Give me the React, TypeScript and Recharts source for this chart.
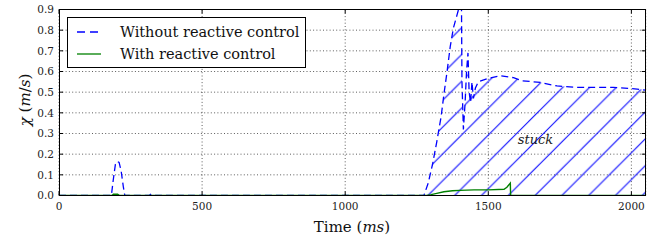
import React from "react";
import {
  ComposedChart,
  Line,
  Area,
  XAxis,
  YAxis,
  CartesianGrid,
  ReferenceDot,
} from "recharts";

// without reactive control (dashed blue)
const noCtrlTime = [0, 183, 190, 197, 203, 210, 217, 225, 230, 315, 320, 325, 1275, 1290, 1305, 1320, 1335, 1345, 1356, 1367, 1378, 1392, 1402, 1406, 1408, 1413, 1419, 1424, 1429, 1433, 1438, 1443, 1448, 1455, 1465, 1495, 1542, 1588, 1620, 1682, 1740, 1810, 1937, 2020, 2050];
const noCtrlChi = [0, 0, 0.08, 0.15, 0.165, 0.16, 0.12, 0.04, 0, 0, 0.006, 0, 0, 0.06, 0.15, 0.26, 0.38, 0.49, 0.6, 0.72, 0.81, 0.88, 0.93, 1.0, 0.55, 0.32, 0.45, 0.6, 0.69, 0.5, 0.45, 0.55, 0.47, 0.52, 0.55, 0.565, 0.58, 0.57, 0.555, 0.547, 0.53, 0.523, 0.523, 0.515, 0.51];

// with reactive control (green)
const ctrlTime = [0, 185, 190, 205, 212, 1285, 1300, 1320, 1345, 1375, 1400, 1450, 1500, 1555, 1565, 1577, 1578, 2050];
const ctrlChi = [0, 0, 0.006, 0.006, 0, 0, 0.004, 0.01, 0.018, 0.023, 0.025, 0.027, 0.027, 0.03, 0.04, 0.06, 0, 0];

const stuckFrom = 1275;
const xTicks = [0, 500, 1000, 1500, 2000];
const yTicks = [0, 0.1, 0.2, 0.3, 0.4, 0.5, 0.6, 0.7, 0.8, 0.9];

const BLUE = "#0000ff";
const GREEN = "#008000";
const FONT = "'DejaVu Serif', serif";

const PLOT = { left: 59, right: 645.7, top: 9.5, bottom: 195.5 };

const noCtrl = noCtrlTime.map((t, i) => ({ t, v: noCtrlChi[i] }));
const ctrl = ctrlTime.map((t, i) => ({ t, v: ctrlChi[i] }));
const stuck = noCtrl.filter((d) => d.t >= stuckFrom);

const XTick = (p: any) => {
  const { x, payload } = p;
  return (
    <g>
      <line x1={x} x2={x} y1={PLOT.bottom} y2={PLOT.bottom - 4} stroke="#000" />
      <line x1={x} x2={x} y1={PLOT.top} y2={PLOT.top + 4} stroke="#000" />
      <text x={x} y={210} textAnchor="middle" fontFamily={FONT} fontSize={10.5} fill="#222">
        {payload.value}
      </text>
    </g>
  );
};

const YTick = (p: any) => {
  const { y, payload } = p;
  return (
    <g>
      <line x1={PLOT.left} x2={PLOT.left + 4} y1={y} y2={y} stroke="#000" />
      <line x1={PLOT.right} x2={PLOT.right - 4} y1={y} y2={y} stroke="#000" />
      <text x={54} y={y + 3.8} textAnchor="end" fontFamily={FONT} fontSize={10.5} fill="#222">
        {Number(payload.value).toFixed(1)}
      </text>
    </g>
  );
};

export default function App() {
  return (
    <div style={{ position: "absolute", left: 0, top: 0, width: 661, height: 245, background: "#fff" }}>
      <svg width={0} height={0} style={{ position: "absolute" }}>
        <defs>
          <pattern id="hatch" patternUnits="userSpaceOnUse" width={26.8} height={26.8}>
            <line x1={-1} y1={8} x2={8} y2={-1} stroke={BLUE} strokeWidth={1} />
            <line x1={6} y1={27.8} x2={27.8} y2={6} stroke={BLUE} strokeWidth={1} />
          </pattern>
        </defs>
      </svg>
      <ComposedChart width={661} height={245} margin={{ top: 9.5, right: 15.3, bottom: 0, left: 0 }}>
        <CartesianGrid stroke="#333" strokeDasharray="1 2.3" strokeWidth={0.8} />
        <XAxis
          type="number"
          dataKey="t"
          domain={[0, 2050]}
          ticks={xTicks}
          interval={0}
          allowDataOverflow
          height={49.5}
          tickLine={false}
          axisLine={false}
          tick={<XTick />}
        />
        <YAxis
          type="number"
          dataKey="v"
          domain={[0, 0.9]}
          ticks={yTicks}
          interval={0}
          allowDataOverflow
          width={59}
          tickLine={false}
          axisLine={false}
          tick={<YTick />}
        />
        <Area
          data={stuck}
          dataKey="v"
          type="linear"
          stroke="none"
          fill="url(#hatch)"
          fillOpacity={1}
          isAnimationActive={false}
        />
        <Line
          data={noCtrl}
          dataKey="v"
          type="linear"
          stroke={BLUE}
          strokeWidth={1.3}
          strokeDasharray="7 4"
          dot={false}
          isAnimationActive={false}
        />
        <Line
          data={ctrl}
          dataKey="v"
          type="linear"
          stroke={GREEN}
          strokeWidth={1.4}
          dot={false}
          isAnimationActive={false}
        />
        <ReferenceDot
          x={1665}
          y={0.27}
          r={0}
          stroke="none"
          label={{ value: "stuck", fontFamily: FONT, fontStyle: "italic", fontSize: 13, fill: "#222", position: "center" }}
        />
      </ComposedChart>

      {/* frame */}
      <div
        style={{
          position: "absolute",
          left: PLOT.left - 0.5,
          top: PLOT.top - 0.5,
          width: PLOT.right - PLOT.left + 1,
          height: PLOT.bottom - PLOT.top + 1,
          border: "1px solid #000",
          boxSizing: "border-box",
        }}
      />

      {/* legend */}
      <div
        style={{
          position: "absolute",
          left: 67,
          top: 17,
          width: 239,
          height: 51,
          border: "1px solid #000",
          boxSizing: "border-box",
          background: "#fff",
          fontFamily: FONT,
          fontSize: 14.5,
          color: "#111",
        }}
      >
        {[
          { name: "Without reactive control", color: BLUE, dash: "8 5" },
          { name: "With reactive control", color: GREEN, dash: "none" },
        ].map((e, i) => (
          <div key={e.name} style={{ position: "absolute", left: 9, top: 4 + i * 21.5, height: 20, display: "flex", alignItems: "center" }}>
            <svg width={24} height={10} style={{ marginRight: 19 }}>
              <line x1={0} x2={24} y1={5} y2={5} stroke={e.color} strokeWidth={1.3} strokeDasharray={e.dash} />
            </svg>
            <span style={{ whiteSpace: "nowrap" }}>{e.name}</span>
          </div>
        ))}
      </div>

      {/* axis titles */}
      <div
        style={{
          position: "absolute",
          left: 352,
          top: 218,
          transform: "translateX(-50%)",
          fontFamily: FONT,
          fontSize: 15,
          whiteSpace: "nowrap",
          color: "#111",
        }}
      >
        Time (<i>ms</i>)
      </div>
      <div
        style={{
          position: "absolute",
          left: 25,
          top: 100,
          transform: "translate(-50%, -50%) rotate(-90deg)",
          fontFamily: FONT,
          fontSize: 15,
          whiteSpace: "nowrap",
          color: "#111",
        }}
      >
        <i>χ</i> (<i>m</i>/<i>s</i>)
      </div>
    </div>
  );
}
